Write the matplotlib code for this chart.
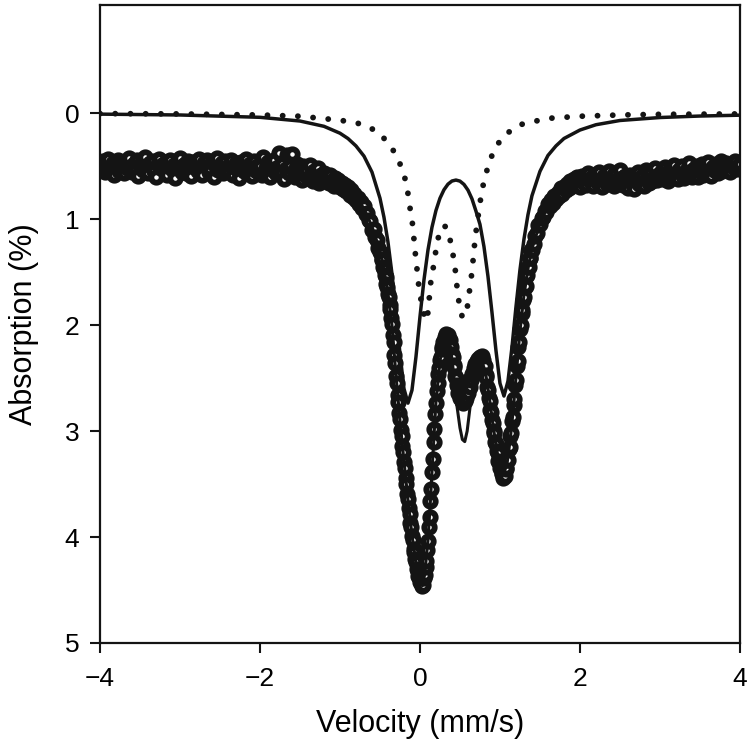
import numpy as np
import matplotlib
matplotlib.use("Agg")
import matplotlib.pyplot as plt

plt.rcParams['font.family'] = ['Liberation Sans', 'DejaVu Sans']

# measured spectrum, read off the picture in three velocity blocks
# left wing: -4.00 .. -0.52 mm/s, step 0.02
left_abs = [
    0.47, 0.53, 0.45, 0.56, 0.50, 0.43, 0.55, 0.52, 0.47, 0.58, 0.49, 0.44, 0.55, 0.51, 0.47, 0.57, 0.45, 0.52, 0.42, 0.53,
    0.56, 0.48, 0.52, 0.44, 0.59, 0.50, 0.46, 0.54, 0.41, 0.53, 0.57, 0.47, 0.50, 0.45, 0.55, 0.60, 0.48, 0.43, 0.52, 0.49,
    0.54, 0.46, 0.58, 0.50, 0.44, 0.53, 0.49, 0.61, 0.47, 0.52, 0.42, 0.56, 0.50, 0.48, 0.57, 0.45, 0.53, 0.59, 0.46, 0.51,
    0.48, 0.55, 0.43, 0.52, 0.58, 0.47, 0.50, 0.44, 0.56, 0.53, 0.46, 0.60, 0.49, 0.42, 0.54, 0.51, 0.47, 0.57, 0.45, 0.52,
    0.55, 0.49, 0.44, 0.58, 0.51, 0.47, 0.53, 0.61, 0.46, 0.50, 0.55, 0.43, 0.57, 0.52, 0.48, 0.59, 0.45, 0.54, 0.50, 0.56,
    0.50, 0.58, 0.41, 0.55, 0.52, 0.46, 0.60, 0.49, 0.54, 0.44, 0.57, 0.51, 0.38, 0.56, 0.48, 0.62, 0.53, 0.40, 0.57, 0.50,
    0.39, 0.55, 0.60, 0.48, 0.57, 0.52, 0.63, 0.50, 0.58, 0.54, 0.61, 0.49, 0.59, 0.64, 0.55, 0.60, 0.52, 0.66, 0.58, 0.62,
    0.57, 0.63, 0.60, 0.66, 0.58, 0.64, 0.69, 0.61, 0.67, 0.63, 0.70, 0.66, 0.72, 0.68, 0.74, 0.70, 0.77, 0.73, 0.79, 0.76,
    0.82, 0.80, 0.86, 0.84, 0.90, 0.88, 0.95, 0.94, 1.01, 1.02, 1.10, 1.09, 1.17, 1.20, 1.27,
]
# centre: -0.50 .. 1.40 mm/s, step 0.01
centre_abs = [
    1.31, 1.32, 1.38, 1.39, 1.45, 1.47, 1.53, 1.55, 1.61, 1.64,
    1.71, 1.74, 1.81, 1.85, 1.93, 1.99, 2.09, 2.16, 2.28, 2.36,
    2.48, 2.55, 2.66, 2.73, 2.83, 2.89, 2.99, 3.05, 3.14, 3.20,
    3.29, 3.35, 3.44, 3.50, 3.59, 3.64, 3.73, 3.78, 3.87, 3.91,
    3.99, 4.03, 4.11, 4.14, 4.21, 4.24, 4.30, 4.32, 4.37, 4.38,
    4.42, 4.42, 4.46, 4.45, 4.45, 4.39, 4.36, 4.28, 4.23, 4.12,
    4.04, 3.91, 3.81, 3.66, 3.55, 3.39, 3.26, 3.10, 2.98, 2.84,
    2.74, 2.62, 2.55, 2.46, 2.41, 2.33, 2.30, 2.23, 2.21, 2.16,
    2.15, 2.11, 2.11, 2.08, 2.10, 2.09, 2.13, 2.14, 2.19, 2.21,
    2.27, 2.30, 2.38, 2.40, 2.48, 2.50, 2.57, 2.58, 2.64, 2.63,
    2.69, 2.67, 2.72, 2.69, 2.74, 2.70, 2.72, 2.67, 2.69, 2.63,
    2.64, 2.57, 2.58, 2.51, 2.52, 2.46, 2.47, 2.41, 2.43, 2.37,
    2.40, 2.34, 2.37, 2.32, 2.35, 2.30, 2.33, 2.29, 2.33, 2.33,
    2.38, 2.39, 2.47, 2.49, 2.58, 2.61, 2.69, 2.72, 2.80, 2.82,
    2.90, 2.92, 3.00, 3.02, 3.10, 3.12, 3.19, 3.21, 3.28, 3.29,
    3.35, 3.35, 3.41, 3.40, 3.44, 3.41, 3.42, 3.36, 3.35, 3.27,
    3.27, 3.17, 3.15, 3.05, 3.02, 2.91, 2.87, 2.75, 2.70, 2.57,
    2.52, 2.39, 2.34, 2.21, 2.16, 2.04, 2.00, 1.89, 1.86, 1.76,
    1.74, 1.64, 1.63, 1.54, 1.53, 1.45, 1.45, 1.37, 1.37, 1.29,
    1.29,
]
# right wing: 1.42 .. 4.00 mm/s, step 0.02
right_abs = [
    1.24, 1.16, 1.13, 1.06, 1.05, 0.99, 0.98, 0.92, 0.93, 0.86, 0.88, 0.82, 0.85, 0.78, 0.81, 0.75, 0.78, 0.71, 0.76, 0.70,
    0.73, 0.67, 0.71, 0.64, 0.69, 0.62, 0.68, 0.60, 0.66, 0.70, 0.59, 0.65, 0.62, 0.68, 0.57, 0.64, 0.61, 0.69, 0.58, 0.63,
    0.66, 0.56, 0.63, 0.70, 0.59, 0.62, 0.67, 0.55, 0.64, 0.60, 0.69, 0.57, 0.63, 0.66, 0.54, 0.61, 0.68, 0.59, 0.64, 0.71,
    0.58, 0.65, 0.62, 0.72, 0.60, 0.56, 0.67, 0.63, 0.59, 0.69, 0.54, 0.62, 0.66, 0.57, 0.64, 0.60, 0.52, 0.63, 0.58, 0.61,
    0.55, 0.62, 0.51, 0.58, 0.64, 0.53, 0.60, 0.56, 0.49, 0.59, 0.62, 0.54, 0.57, 0.50, 0.61, 0.55, 0.58, 0.47, 0.56, 0.60,
    0.53, 0.57, 0.50, 0.60, 0.54, 0.48, 0.58, 0.52, 0.56, 0.46, 0.55, 0.59, 0.51, 0.54, 0.48, 0.57, 0.52, 0.45, 0.55, 0.50,
    0.47, 0.54, 0.50, 0.56, 0.49, 0.52, 0.45, 0.53, 0.50, 0.48,
]

left_vel = np.linspace(-4.0, -0.52, len(left_abs))
centre_vel = np.linspace(-0.50, 1.40, len(centre_abs))
right_vel = np.linspace(1.42, 4.0, len(right_abs))

# total fit through the data
fit_vel = [-4.0, -3.0, -2.0, -1.5, -1.2, -1.0, -0.85, -0.7, -0.6, -0.5,
           -0.45, -0.4, -0.35, -0.3, -0.25, -0.2, -0.15, -0.1, -0.05, 0.0,
           0.03, 0.06, 0.1, 0.13, 0.16, 0.2, 0.25, 0.3, 0.34, 0.38,
           0.42, 0.46, 0.5, 0.53, 0.56, 0.59, 0.63, 0.67, 0.72, 0.77,
           0.82, 0.87, 0.92, 0.97, 1.01, 1.05, 1.09, 1.13, 1.17, 1.21,
           1.25, 1.3, 1.35, 1.4, 1.5, 1.6, 1.75, 1.9, 2.2, 2.6,
           3.0, 3.5, 4.0]
fit_abs = [0.50, 0.51, 0.53, 0.56, 0.60, 0.65, 0.74, 0.90, 1.07, 1.30,
           1.48, 1.70, 2.00, 2.47, 2.90, 3.28, 3.65, 3.98, 4.25, 4.41,
           4.46, 4.35, 4.03, 3.67, 3.25, 2.73, 2.34, 2.14, 2.09, 2.20,
           2.45, 2.75, 2.97, 3.08, 3.10, 3.00, 2.75, 2.53, 2.38, 2.33,
           2.45, 2.70, 2.98, 3.22, 3.36, 3.40, 3.30, 3.07, 2.77, 2.41,
           2.06, 1.72, 1.47, 1.28, 1.04, 0.88, 0.75, 0.68, 0.63, 0.61,
           0.59, 0.56, 0.52]

# component 1 (solid doublet)
d1_vel = [-4.0, -3.0, -2.0, -1.5, -1.2, -1.0, -0.9, -0.8, -0.7, -0.6,
          -0.5, -0.45, -0.4, -0.35, -0.3, -0.25, -0.2, -0.15, -0.1, -0.05,
          0.0, 0.05, 0.1, 0.15, 0.2, 0.25, 0.3, 0.35, 0.4, 0.45,
          0.5, 0.55, 0.6, 0.65, 0.7, 0.75, 0.8, 0.85, 0.9, 0.95,
          1.0, 1.05, 1.1, 1.15, 1.2, 1.25, 1.3, 1.35, 1.4,
          1.5, 1.6, 1.7, 1.8, 2.0, 2.2, 2.5, 3.0, 3.5, 4.0]
d1_abs = [0.010, 0.018, 0.040, 0.075, 0.125, 0.190, 0.240, 0.310, 0.406, 0.557,
          0.803, 0.983, 1.216, 1.516, 1.879, 2.271, 2.600, 2.737, 2.615, 2.300,
          1.923, 1.575, 1.293, 1.078, 0.919, 0.804, 0.724, 0.671, 0.641, 0.632,
          0.642, 0.673, 0.727, 0.809, 0.925, 1.05, 1.26, 1.54, 1.88, 2.24,
          2.55, 2.67, 2.53, 2.21, 1.83, 1.48, 1.19, 0.96, 0.78,
          0.55, 0.40, 0.31, 0.24, 0.16, 0.110, 0.070, 0.042, 0.028, 0.020]

# component 2 (dotted doublet)
d2_vel = [-4.0, -3.0, -2.0, -1.5, -1.1, -0.875, -0.7, -0.52, -0.4, -0.3,
          -0.21, -0.16, -0.135, -0.10, -0.08, -0.06, -0.04, -0.02, 0.01, 0.05,
          0.08, 0.10, 0.115, 0.13, 0.16, 0.19, 0.22, 0.27, 0.32, 0.37,
          0.41, 0.44, 0.46, 0.49, 0.53, 0.57, 0.60, 0.625, 0.65, 0.67,
          0.69, 0.72, 0.76, 0.80, 0.86, 0.93, 1.05, 1.25, 1.45, 1.6,
          2.0, 2.5, 3.0, 4.0]
d2_abs = [0.005, 0.008, 0.018, 0.03, 0.06, 0.08, 0.11, 0.18, 0.28, 0.39,
          0.55, 0.70, 0.85, 1.00, 1.15, 1.31, 1.45, 1.60, 1.75, 1.90,
          1.96, 1.88, 1.76, 1.62, 1.49, 1.34, 1.20, 1.07, 1.07, 1.17,
          1.32, 1.47, 1.62, 1.80, 1.93, 1.90, 1.80, 1.64, 1.50, 1.34,
          1.18, 1.01, 0.80, 0.64, 0.48, 0.34, 0.21, 0.11, 0.075, 0.05,
          0.03, 0.018, 0.012, 0.008]

x_ticks = [-4, -2, 0, 2, 4]
y_ticks = [0, 1, 2, 3, 4, 5]

ink = '#141414'

fig = plt.figure(figsize=(7.5, 7.53), dpi=100)
ax = fig.add_axes([0.1333, 0.1461, 0.8533, 0.8473])

for vel, ab in [(left_vel, left_abs), (centre_vel, centre_abs), (right_vel, right_abs)]:
    ax.plot(vel, ab, linestyle='none', marker='o', ms=7.5, mew=4.2,
            mfc='white', mec=ink, zorder=2)

ax.plot(fit_vel, fit_abs, color=ink, lw=2.2, zorder=3, solid_joinstyle='round')
ax.plot(d1_vel, d1_abs, color=ink, lw=2.5, zorder=4, solid_joinstyle='round')
ax.plot(d2_vel, d2_abs, color=ink, lw=4.2, zorder=4,
        linestyle=(0, (0.01, 2.6)), dash_capstyle='round')

ax.set_xlim(-4, 4)
ax.set_ylim(5, -1.02)
ax.set_xticks(x_ticks)
ax.set_yticks(y_ticks)
ax.tick_params(direction='out', length=7, width=1.5, labelsize=19, color=ink)
ax.tick_params(axis='x', pad=10)
ax.tick_params(axis='y', pad=8)
for s in ax.spines.values():
    s.set_linewidth(1.6)
    s.set_color(ink)

ax.set_xlabel('Velocity (mm/s)', fontsize=22, labelpad=13)
ax.set_ylabel('Absorption (%)', fontsize=22, labelpad=18)

fig.savefig('out.png', dpi=100)
